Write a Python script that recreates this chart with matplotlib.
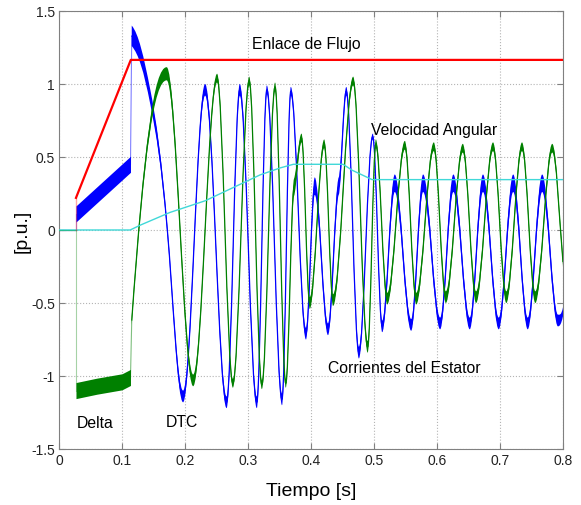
import numpy as np
import matplotlib
matplotlib.use("Agg")
import matplotlib.pyplot as plt
from matplotlib.path import Path
from matplotlib.patches import PathPatch

plt.rcParams['font.family'] = ['Liberation Sans', 'DejaVu Sans']

# --- data -----------------------------------------------------------------
# stator flux linkage (red)
flux_t = [0.027, 0.114, 0.8]
flux_v = [0.22, 1.165, 1.165]

# angular speed (cyan)
speed_t = [0.0, 0.113, 0.13, 0.176, 0.232, 0.319, 0.351, 0.372, 0.451, 0.465, 0.497, 0.8]
speed_v = [0.0, 0.0, 0.035, 0.12, 0.2, 0.377, 0.425, 0.45, 0.45, 0.41, 0.345, 0.345]

# stator currents during the Delta start (straight ramps with ripple)
ia_delta_t = [0.027, 0.1135]
ia_delta_v = [0.11, 0.45]
ib_delta_t = [0.027, 0.06, 0.1, 0.1135]
ib_delta_v = [-1.10, -1.07, -1.04, -1.01]
delta_ripple = 0.055

# stator currents under DTC: knots (time, value, slope, ripple half-width)
ia_t = [0.1155, 0.145, 0.172, 0.197, 0.232, 0.266, 0.287, 0.314, 0.330, 0.354,
        0.368, 0.392, 0.406, 0.427, 0.444, 0.456, 0.476, 0.498, 0.513, 0.533,
        0.559, 0.578, 0.605, 0.626, 0.652, 0.673, 0.698, 0.721, 0.744, 0.767,
        0.792, 0.800]
ia_v = [1.33, 0.91, 0.0, -1.14, 0.96, -1.18, 0.96, -1.18, 0.96, -1.16,
        0.95, -0.71, 0.30, -0.68, 0.30, 0.95, -0.84, 0.64, -0.66, 0.32,
        -0.65, 0.32, -0.64, 0.32, -0.64, 0.32, -0.64, 0.32, -0.64, 0.32,
        -0.62, -0.56]
ia_s = [-5, -22, -50, 0, 0, 0, 0, 0, 0, 0,
        0, 0, 0, 0, 8, 0, 0, 0, 0, 0,
        0, 0, 0, 0, 0, 0, 0, 0, 0, 0,
        0, 20]
ia_w = [0.07, 0.05, 0.03, 0.04, 0.04, 0.04, 0.04, 0.04, 0.03, 0.04,
        0.03, 0.04, 0.06, 0.04, 0.06, 0.03, 0.04, 0.02, 0.04, 0.06,
        0.04, 0.06, 0.04, 0.06, 0.04, 0.06, 0.04, 0.06, 0.04, 0.06,
        0.04, 0.03]

ib_t = [0.1155, 0.171, 0.213, 0.251, 0.276, 0.302, 0.322, 0.343, 0.360, 0.373,
        0.385, 0.398, 0.421, 0.435, 0.467, 0.490, 0.503, 0.521, 0.549, 0.567,
        0.595, 0.614, 0.641, 0.662, 0.689, 0.710, 0.735, 0.756, 0.783, 0.800]
ib_v = [-0.62, 1.07, -1.03, 1.04, -1.05, 1.02, -1.06, 0.98, -1.05, 0.29,
        0.63, -0.50, 0.59, -0.48, 1.02, -0.80, 0.59, -0.47, 0.58, -0.47,
        0.57, -0.46, 0.56, -0.46, 0.57, -0.46, 0.57, -0.46, 0.56, -0.22]
ib_s = [60, 0, 0, 0, 0, 0, 0, 0, 0, 12,
        0, 0, 0, 0, 0, 0, 0, 0, 0, 0,
        0, 0, 0, 0, 0, 0, 0, 0, 0, -50]
ib_w = [0.03, 0.045, 0.04, 0.03, 0.03, 0.03, 0.03, 0.03, 0.03, 0.06,
        0.03, 0.04, 0.03, 0.04, 0.03, 0.04, 0.03, 0.04, 0.03, 0.04,
        0.03, 0.04, 0.03, 0.04, 0.03, 0.04, 0.03, 0.04, 0.03, 0.03]

x_ticks = [0, 0.1, 0.2, 0.3, 0.4, 0.5, 0.6, 0.7, 0.8]
x_labels = ['0', '0.1', '0.2', '0.3', '0.4', '0.5', '0.6', '0.7', '0.8']
y_ticks = [-1.5, -1, -0.5, 0, 0.5, 1, 1.5]
y_labels = ['-1.5', '-1', '-0.5', '0', '0.5', '1', '1.5']

BLUE = '#0000ff'
GREEN = '#008000'
RED = '#ff0000'
CYAN = '#40d8d8'
K = 0.36  # bezier handle length (close to a cosine between extrema)


def hermite_segments(t, v, s):
    segs = []
    for i in range(len(t) - 1):
        dx = t[i + 1] - t[i]
        c1 = (t[i] + K * dx, v[i] + K * dx * s[i])
        c2 = (t[i + 1] - K * dx, v[i + 1] - K * dx * s[i + 1])
        segs.append(((t[i], v[i]), c1, c2, (t[i + 1], v[i + 1])))
    return segs


def line_path(t, v, s):
    segs = hermite_segments(t, v, s)
    verts = [segs[0][0]]
    codes = [Path.MOVETO]
    for p0, c1, c2, p1 in segs:
        verts += [c1, c2, p1]
        codes += [Path.CURVE4] * 3
    return Path(verts, codes)


def band_path(t, v, s, w):
    up = hermite_segments(t, np.add(v, w), s)
    lo = hermite_segments(t, np.subtract(v, w), s)
    verts = [up[0][0]]
    codes = [Path.MOVETO]
    for p0, c1, c2, p1 in up:
        verts += [c1, c2, p1]
        codes += [Path.CURVE4] * 3
    verts.append(lo[-1][3])
    codes.append(Path.LINETO)
    for p0, c1, c2, p1 in reversed(lo):
        verts += [c2, c1, p0]
        codes += [Path.CURVE4] * 3
    verts.append(verts[0])
    codes.append(Path.CLOSEPOLY)
    return Path(verts, codes)


def draw_current(ax, dt, dv, t, v, s, w, color, z):
    # before start: zero, then jump into the Delta ramp
    ax.plot([0, dt[0]], [0, 0], color=color, lw=0.8, zorder=z)
    ax.plot([dt[0], dt[0]], [0, dv[0]], color=color, lw=0.8, alpha=0.35, zorder=z)
    ax.fill_between(dt, np.subtract(dv, delta_ripple), np.add(dv, delta_ripple),
                    color=color, lw=0, zorder=z)
    # switch to DTC
    ax.plot([dt[-1], t[0]], [dv[-1], v[0]], color=color, lw=0.8, alpha=0.5, zorder=z)
    ax.add_patch(PathPatch(band_path(t, v, s, w), facecolor=color, edgecolor='none',
                           zorder=z))
    ax.add_patch(PathPatch(line_path(t, v, s), facecolor='none', edgecolor=color,
                           lw=0.9, zorder=z))


fig = plt.figure(figsize=(5.81, 5.06), dpi=100)
ax = fig.add_axes([0.1015, 0.1107, 0.8675, 0.8656])

draw_current(ax, ia_delta_t, ia_delta_v, ia_t, ia_v, ia_s, ia_w, BLUE, 2)
draw_current(ax, ib_delta_t, ib_delta_v, ib_t, ib_v, ib_s, ib_w, GREEN, 3)

ax.plot(speed_t, speed_v, color=CYAN, lw=1.0, zorder=4)
ax.plot([flux_t[0], flux_t[0]], [0, flux_v[0]], color=RED, lw=1.0, alpha=0.35, zorder=5)
ax.plot(flux_t, flux_v, color=RED, lw=1.6, zorder=5)

ax.set_xlim(0, 0.8)
ax.set_ylim(-1.5, 1.5)
ax.set_xticks(x_ticks)
ax.set_xticklabels(x_labels)
ax.set_yticks(y_ticks)
ax.set_yticklabels(y_labels)
ax.tick_params(direction='in', length=4, top=True, right=True, labelsize=10,
               color='#808080', labelcolor='#222222', pad=3)
ax.grid(True, linestyle=':', color='#b4b4b4', linewidth=0.8)
ax.set_axisbelow(True)
for sp in ax.spines.values():
    sp.set_color('#808080')

ax.set_xlabel('Tiempo [s]', fontsize=14, labelpad=11)
ax.set_ylabel('[p.u.]', fontsize=14, labelpad=0)

ax.text(0.306, 1.28, 'Enlace de Flujo', fontsize=11.3, va='center')
ax.text(0.495, 0.69, 'Velocidad Angular', fontsize=11.3, va='center')
ax.text(0.427, -0.945, 'Corrientes del Estator', fontsize=11.3, va='center')
ax.text(0.029, -1.32, 'Delta', fontsize=11.3, va='center')
ax.text(0.17, -1.31, 'DTC', fontsize=11.3, va='center')

fig.savefig('out.png', dpi=100)
